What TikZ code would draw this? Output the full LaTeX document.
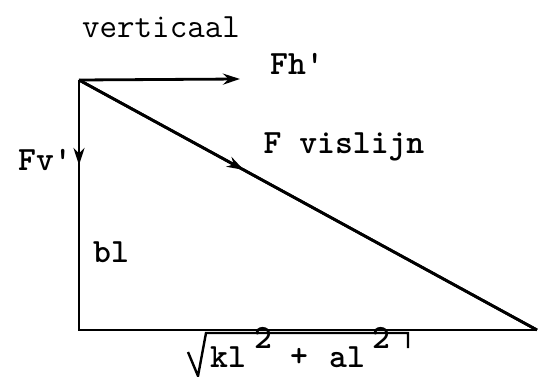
\documentclass[tikz,border=0pt]{standalone}
\usepackage{fontspec}
\usetikzlibrary{arrows.meta,decorations.markings}
\begin{document}
\begin{tikzpicture}[x=1pt,y=-1pt,
  lbl/.style={inner sep=0pt,font=\fontsize{34}{36}\selectfont\ttfamily\bfseries},
  edge/.style={line width=2.8pt},
  tip/.style={-{Stealth[length=17pt,width=11pt]}},
  midarrow/.style={postaction={decorate},decoration={markings,mark=at position #1 with {\arrow{Stealth[length=17pt,width=11pt]}}}}]
\useasboundingbox (0,0) rectangle (538,377);
\coordinate (A) at (79,80);
\coordinate (B) at (79,330);
\coordinate (C) at (537,330);
\coordinate (H) at (240,79);
\draw[edge] (A) -- (B) -- (C);
\draw[edge] (A) -- (C);
\draw[edge,midarrow=0.34] (A) -- (B);
\draw[edge,midarrow=0.36] (A) -- (C);
\draw[edge,tip] (A) -- (H);
\node[lbl,font=\fontsize{34}{36}\selectfont\ttfamily] (vert) at (161,27) {verticaal};
\node[lbl] (fh) at (297,64) {Fh'};
\node[lbl] (fv) at (45,160) {Fv'};
\node[lbl] (fvis) at (344,147) {F vislijn};
\node[lbl] (bl) at (111,252) {bl};
\node[lbl,anchor=west] (kl) at (210,357) {kl};
\node[lbl,anchor=west] (s1) at (254,338) {2};
\node[lbl,anchor=west] (plus) at (290,357) {+};
\node[lbl,anchor=west] (al) at (329,357) {al};
\node[lbl,anchor=west] (s2) at (372,338) {2};
\coordinate (r0) at (188,352);
\coordinate (r1) at (198,376);
\coordinate (r2) at (206,333);
\coordinate (r3) at (408,333);
\coordinate (r4) at (408,348);
\draw[line width=2.4pt] (r0) -- (r1) -- (r2) -- (r3) -- (r4);
\end{tikzpicture}
\end{document}
